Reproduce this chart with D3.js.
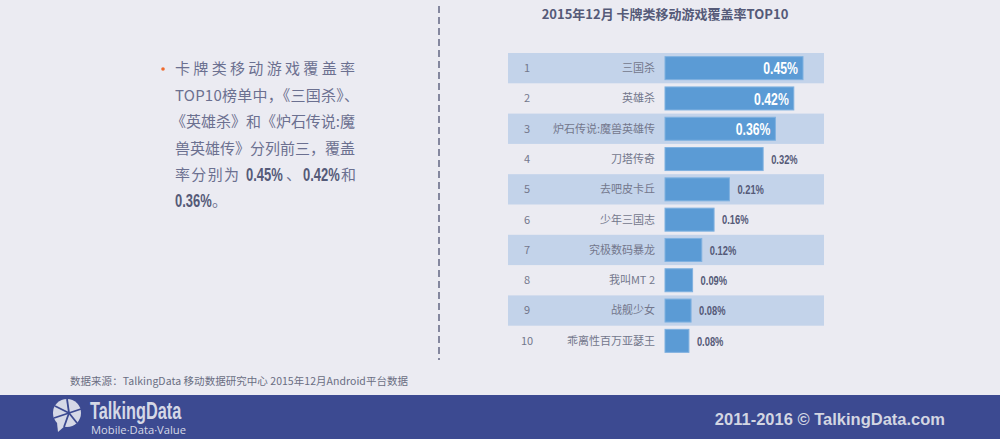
<!DOCTYPE html>
<html lang="zh">
<head>
<meta charset="UTF-8">
<title>卡牌类移动游戏覆盖率TOP10</title>
<script src="https://d3js.org/d3.v7.min.js"></script>
<style>
    body { margin: 0; background: #ebebf2; }
    svg { display: block; font-family: "Noto Sans CJK SC", "Noto Sans", sans-serif; }
</style>
</head>
<body>
<div id="chart"></div>
<script>
    // data
    const ranks = ['1', '2', '3', '4', '5', '6', '7', '8', '9', '10'];
    const games = ['三国杀', '英雄杀', '炉石传说:魔兽英雄传', '刀塔传奇', '去吧皮卡丘',
                   '少年三国志', '究极数码暴龙', '我叫MT 2', '战舰少女', '乖离性百万亚瑟王'];
    const coverage = [0.45, 0.42, 0.36, 0.32, 0.21, 0.16, 0.12, 0.09, 0.085, 0.078];
    const coverageLabels = ['0.45%', '0.42%', '0.36%', '0.32%', '0.21%', '0.16%', '0.12%', '0.09%', '0.08%', '0.08%'];
    const insideCount = 3; // first three labels sit inside the bar

    const W = 1000, H = 439;
    const squeeze = 0.72; // horizontal scale to fake the condensed bold face
    const svg = d3.select('#chart').append('svg')
        .attr('width', W).attr('height', H);

    svg.append('rect').attr('width', W).attr('height', H).attr('fill', '#ebebf2');

    // chart title
    svg.append('text')
        .attr('x', 665).attr('y', 19)
        .attr('text-anchor', 'middle')
        .attr('font-size', 13).attr('font-weight', 'bold')
        .attr('fill', '#555a78')
        .text('2015年12月 卡牌类移动游戏覆盖率TOP10');

    const y = d3.scaleBand()
        .domain(ranks)
        .range([53, 356])
        .paddingInner(0);

    const x = d3.scaleLinear()
        .domain([0, 0.45])
        .range([665, 803]);

    const rows = svg.append('g').selectAll('g')
        .data(ranks)
        .join('g')
        .attr('transform', d => `translate(0,${y(d)})`);

    // striped background bands on odd rows
    rows.filter((d, i) => i % 2 === 0)
        .append('rect')
        .attr('x', 508).attr('width', 316)
        .attr('height', y.bandwidth())
        .attr('fill', '#c3d3ea');

    rows.append('text')
        .attr('x', 527).attr('y', y.bandwidth() / 2)
        .attr('dy', '0.35em')
        .attr('text-anchor', 'middle')
        .attr('font-size', 11).attr('fill', '#73778c')
        .text(d => d);

    rows.append('text')
        .attr('x', 655).attr('y', y.bandwidth() / 2)
        .attr('dy', '0.35em')
        .attr('text-anchor', 'end')
        .attr('font-size', 11).attr('fill', '#73778c')
        .text((d, i) => games[i]);

    const barH = 23;
    rows.append('rect')
        .attr('x', x(0))
        .attr('y', (y.bandwidth() - barH) / 2)
        .attr('width', (d, i) => x(coverage[i]) - x(0))
        .attr('height', barH)
        .attr('fill', '#5b9bd5')
        .attr('stroke', '#7fb1e0').attr('stroke-width', 1);

    rows.append('text')
        .attr('transform', (d, i) => {
            const lx = i < insideCount ? x(coverage[i]) - 5 : x(coverage[i]) + 8;
            return `translate(${lx},${y.bandwidth() / 2}) scale(${squeeze},1)`;
        })
        .attr('dy', '0.36em')
        .attr('text-anchor', (d, i) => i < insideCount ? 'end' : 'start')
        .attr('font-family', '"Liberation Sans", Arial, sans-serif')
        .attr('font-weight', 'bold')
        .attr('font-size', (d, i) => i < insideCount ? 17 : 13)
        .attr('fill', (d, i) => i < insideCount ? '#ffffff' : '#555a78')
        .text((d, i) => coverageLabels[i]);

    // dashed divider
    svg.append('line')
        .attr('x1', 439).attr('x2', 439)
        .attr('y1', 6).attr('y2', 360)
        .attr('stroke', '#6b6f8a').attr('stroke-width', 1.6)
        .attr('stroke-dasharray', '7,4');

    // left commentary
    svg.append('circle').attr('cx', 163).attr('cy', 69).attr('r', 1.8).attr('fill', '#ef6a2d');

    const note = svg.append('g')
        .attr('font-size', 15).attr('fill', '#6b7090');
    const lineY = [74, 101, 127, 154, 180, 206];

    note.append('text').attr('x', 175).attr('y', lineY[0])
        .attr('textLength', 180).attr('lengthAdjust', 'spacing')
        .text('卡牌类移动游戏覆盖率');
    note.append('text').attr('x', 175).attr('y', lineY[1])
        .attr('textLength', 184).attr('lengthAdjust', 'spacing')
        .text('TOP10榜单中，《三国杀》、');
    note.append('text').attr('x', 171).attr('y', lineY[2])
        .attr('textLength', 184).attr('lengthAdjust', 'spacing')
        .text('《英雄杀》和《炉石传说:魔');
    note.append('text').attr('x', 175).attr('y', lineY[3])
        .attr('textLength', 180).attr('lengthAdjust', 'spacing')
        .text('兽英雄传》分列前三，覆盖');

    note.append('text').attr('x', 175).attr('y', lineY[4])
        .attr('textLength', 64).attr('lengthAdjust', 'spacing')
        .text('率分别为');
    const boldNum = (xPos, yPos, txt) => {
        note.append('text')
            .attr('transform', `translate(${xPos},${yPos}) scale(${squeeze},1)`)
            .attr('font-family', '"Liberation Sans", Arial, sans-serif')
            .attr('font-weight', 'bold').attr('font-size', 18).attr('fill', '#555a78')
            .text(txt);
    };
    boldNum(246, lineY[4] + 1, coverageLabels[0]);
    note.append('text').attr('x', 286).attr('y', lineY[4]).text('、');
    boldNum(303, lineY[4] + 1, coverageLabels[1]);
    note.append('text').attr('x', 341).attr('y', lineY[4]).text('和');
    boldNum(175, lineY[5] + 1, coverageLabels[2]);
    note.append('text').attr('x', 212).attr('y', lineY[5]).text('。');

    // source
    svg.append('text')
        .attr('x', 70).attr('y', 385)
        .attr('font-size', 10.5).attr('fill', '#6a6e82')
        .attr('textLength', 338).attr('lengthAdjust', 'spacing')
        .text('数据来源：TalkingData   移动数据研究中心  2015年12月Android平台数据');

    // footer band
    svg.append('rect').attr('x', 0).attr('y', 395).attr('width', W).attr('height', H - 395)
        .attr('fill', '#3c4a91');

    // logo mark: split circle with speech tail
    const logo = svg.append('g').attr('transform', 'translate(67,413)');
    logo.append('path').attr('d', 'M-10,10 L-9,19 L-1,12 Z').attr('fill', '#d5d8e6');
    logo.append('circle').attr('r', 14).attr('fill', '#d5d8e6');
    const cuts = [[0, -14, 2, 0], [2, 0, 14, -4], [2, 0, 10, 10], [2, 0, -13, 5], [-12, -7, 2, 0], [2, 0, -3, 14]];
    logo.selectAll('line').data(cuts).join('line')
        .attr('x1', d => d[0]).attr('y1', d => d[1])
        .attr('x2', d => d[2]).attr('y2', d => d[3])
        .attr('stroke', '#3c4a91').attr('stroke-width', 1.8);

    svg.append('text')
        .attr('transform', 'translate(90,419) scale(0.68,1)')
        .attr('font-family', '"Liberation Sans", Arial, sans-serif')
        .attr('font-weight', 'bold').attr('font-size', 24)
        .attr('fill', '#d5d8e6')
        .text('TalkingData');
    svg.append('text')
        .attr('x', 91).attr('y', 434)
        .attr('textLength', 95).attr('lengthAdjust', 'spacingAndGlyphs')
        .attr('font-family', '"Open Sans", "Noto Sans", sans-serif')
        .attr('font-size', 11)
        .attr('fill', '#d5d8e6')
        .text('Mobile·Data·Value');

    svg.append('text')
        .attr('x', 945).attr('y', 425)
        .attr('text-anchor', 'end')
        .attr('font-family', '"Liberation Sans", Arial, sans-serif')
        .attr('font-weight', 'bold').attr('font-size', 16.5)
        .attr('fill', '#d3d6e2')
        .text('2011-2016 © TalkingData.com');
</script>
</body>
</html>
